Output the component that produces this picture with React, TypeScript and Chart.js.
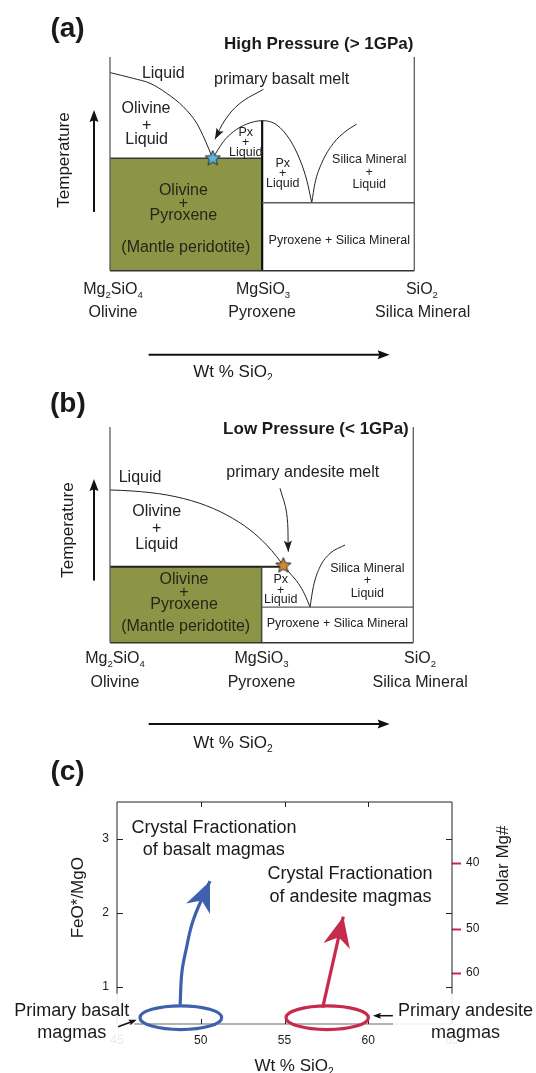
import React, { useEffect, useRef } from 'react';
import { Chart, registerables } from 'chart.js';

Chart.register(...registerables);

const FONT = '"Liberation Sans", Arial, Helvetica, sans-serif';
Chart.defaults.font.family = FONT;

type P = { x: number; y: number };
type Label = { t: string; x: number; y: number; s: string; rot?: boolean };

// ---------------- Panel (a): High pressure (schematic composition 0=Mg2SiO4, 1=MgSiO3, 2=SiO2; temperature 0..100) -------------
const hpOlivineLiquidus: P[] = [
  { x: 0, y: 92.7 }, { x: 0.153, y: 90.0 }, { x: 0.263, y: 87.7 }, { x: 0.373, y: 83.0 },
  { x: 0.482, y: 76.7 }, { x: 0.57, y: 69.0 }, { x: 0.624, y: 61.2 }, { x: 0.675, y: 52.6 },
];
const hpPxLiquidus: P[] = [
  { x: 0.675, y: 52.6 }, { x: 0.745, y: 60.4 }, { x: 0.81, y: 65.0 }, { x: 0.898, y: 68.6 },
  { x: 1.0, y: 70.2 }, { x: 1.096, y: 68.2 }, { x: 1.183, y: 61.2 }, { x: 1.249, y: 51.8 },
  { x: 1.293, y: 42.4 }, { x: 1.326, y: 31.8 },
];
const hpSilicaLiquidus: P[] = [
  { x: 1.326, y: 31.8 }, { x: 1.347, y: 40.9 }, { x: 1.391, y: 50.3 }, { x: 1.468, y: 59.6 },
  { x: 1.545, y: 65.0 }, { x: 1.621, y: 68.6 },
];
const hpSolidusOlPx = 52.6;
const hpSolidusPxSil = 31.8;
const hpPxMelting = 70.2;
const hpMelt: P[] = [{ x: 0.675, y: 53.0 }];
const hpMeltArrow: P[] = [{ x: 1.008, y: 84.9 }, { x: 0.854, y: 78.3 }, { x: 0.756, y: 70.5 }, { x: 0.69, y: 61.5 }];
const hpTempArrow: P[] = [{ x: -0.105, y: 27.5 }, { x: -0.105, y: 75.2 }];
const hpSio2Arrow: P[] = [{ x: 0.254, y: -39.3 }, { x: 1.838, y: -39.3 }];
const hpLabels: Label[] = [
  { t: '(a)', x: -0.279, y: 113.1, s: 'panel' },
  { t: 'High Pressure (> 1GPa)', x: 1.372, y: 105.9, s: 'title' },
  { t: 'Liquid', x: 0.35, y: 92.4, s: 'm' },
  { t: 'Olivine', x: 0.237, y: 75.7, s: 'm' },
  { t: '+', x: 0.241, y: 67.7, s: 'm' },
  { t: 'Liquid', x: 0.241, y: 61.2, s: 'm' },
  { t: 'primary basalt melt', x: 1.128, y: 89.6, s: 'm' },
  { t: 'Px', x: 0.892, y: 64.6, s: 's' },
  { t: '+', x: 0.892, y: 59.9, s: 's' },
  { t: 'Liquid', x: 0.892, y: 55.2, s: 's' },
  { t: 'Px', x: 1.135, y: 50.3, s: 's' },
  { t: '+', x: 1.135, y: 45.6, s: 's' },
  { t: 'Liquid', x: 1.135, y: 40.6, s: 's' },
  { t: 'Silica Mineral', x: 1.704, y: 52.1, s: 's' },
  { t: '+', x: 1.704, y: 45.9, s: 's' },
  { t: 'Liquid', x: 1.704, y: 40.1, s: 's' },
  { t: 'Olivine', x: 0.482, y: 37.4, s: 'o' },
  { t: '+', x: 0.482, y: 31.5, s: 'o' },
  { t: 'Pyroxene', x: 0.482, y: 25.7, s: 'o' },
  { t: '(Mantle peridotite)', x: 0.498, y: 11.0, s: 'o' },
  { t: 'Pyroxene + Silica Mineral', x: 1.507, y: 14.0, s: 's' },
  { t: 'Mg_2SiO_4', x: 0.02, y: -8.9, s: 'm' },
  { t: 'Olivine', x: 0.02, y: -19.8, s: 'm' },
  { t: 'MgSiO_3', x: 1.006, y: -8.9, s: 'm' },
  { t: 'Pyroxene', x: 1.0, y: -19.8, s: 'm' },
  { t: 'SiO_2', x: 2.05, y: -8.9, s: 'm' },
  { t: 'Silica Mineral', x: 2.055, y: -19.8, s: 'm' },
  { t: 'Wt % SiO_2', x: 0.808, y: -47.4, s: 'axis' },
  { t: 'Temperature', x: -0.302, y: 51.8, s: 'axis', rot: true },
];

// ---------------- Panel (b): Low pressure ----------------
const lpOlivinePxLiquidus: P[] = [
  { x: 0, y: 70.8 }, { x: 0.154, y: 70.3 }, { x: 0.374, y: 68.5 }, { x: 0.593, y: 64.6 },
  { x: 0.77, y: 59.2 }, { x: 0.923, y: 52.3 }, { x: 1.033, y: 45.3 }, { x: 1.099, y: 39.9 },
  { x: 1.143, y: 35.9 }, { x: 1.187, y: 32.2 }, { x: 1.242, y: 27.5 }, { x: 1.286, y: 22.1 },
  { x: 1.319, y: 16.5 },
];
const lpSilicaLiquidus: P[] = [
  { x: 1.319, y: 16.5 }, { x: 1.341, y: 26.0 }, { x: 1.385, y: 35.2 }, { x: 1.451, y: 41.4 }, { x: 1.55, y: 45.3 },
];
const lpPeritectic = 35.2;
const lpPeritecticEnd = 1.13;
const lpSolidusPxSil = 16.5;
const lpMelt: P[] = [{ x: 1.143, y: 36.2 }];
const lpMeltArrow: P[] = [{ x: 1.121, y: 71.6 }, { x: 1.165, y: 60.0 }, { x: 1.176, y: 42.2 }];
const lpTempArrow: P[] = [{ x: -0.1055, y: 28.8 }, { x: -0.1055, y: 75.9 }];
const lpSio2Arrow: P[] = [{ x: 0.255, y: -37.7 }, { x: 1.844, y: -37.7 }];
const lpLabels: Label[] = [
  { t: '(b)', x: -0.278, y: 110.6, s: 'panel' },
  { t: 'Low Pressure (< 1GPa)', x: 1.358, y: 99.0, s: 'title' },
  { t: 'Liquid', x: 0.198, y: 76.7, s: 'm' },
  { t: 'Olivine', x: 0.308, y: 60.7, s: 'm' },
  { t: '+', x: 0.308, y: 53.0, s: 'm' },
  { t: 'Liquid', x: 0.308, y: 45.3, s: 'm' },
  { t: 'primary andesite melt', x: 1.271, y: 78.8, s: 'm' },
  { t: 'Olivine', x: 0.488, y: 29.1, s: 'o' },
  { t: '+', x: 0.488, y: 23.2, s: 'o' },
  { t: 'Pyroxene', x: 0.488, y: 17.8, s: 'o' },
  { t: '(Mantle peridotite)', x: 0.499, y: 7.4, s: 'o' },
  { t: 'Px', x: 1.126, y: 29.4, s: 's' },
  { t: '+', x: 1.126, y: 24.4, s: 's' },
  { t: 'Liquid', x: 1.126, y: 19.8, s: 's' },
  { t: 'Silica Mineral', x: 1.697, y: 34.5, s: 's' },
  { t: '+', x: 1.697, y: 28.6, s: 's' },
  { t: 'Liquid', x: 1.697, y: 22.9, s: 's' },
  { t: 'Pyroxene + Silica Mineral', x: 1.499, y: 8.7, s: 's' },
  { t: 'Mg_2SiO_4', x: 0.033, y: -7.6, s: 'm' },
  { t: 'Olivine', x: 0.033, y: -18.4, s: 'm' },
  { t: 'MgSiO_3', x: 0.999, y: -7.6, s: 'm' },
  { t: 'Pyroxene', x: 0.999, y: -18.4, s: 'm' },
  { t: 'SiO_2', x: 2.045, y: -7.6, s: 'm' },
  { t: 'Silica Mineral', x: 2.045, y: -18.4, s: 'm' },
  { t: 'Wt % SiO_2', x: 0.811, y: -46.7, s: 'axis' },
  { t: 'Temperature', x: -0.277, y: 52.2, s: 'axis', rot: true },
];

// ---------------- Panel (c): FeO*/MgO vs SiO2 ----------------
const sio2Ticks = [45, 50, 55, 60, 65];
const ratioTicks = [1, 2, 3];
const mgTicks = [40, 50, 60];
const basaltTrend: P[] = [
  { x: 48.77, y: 0.76 }, { x: 48.87, y: 1.19 }, { x: 49.12, y: 1.5 }, { x: 49.56, y: 1.91 }, { x: 50.55, y: 2.43 },
];
const andesiteTrend: P[] = [{ x: 57.28, y: 0.72 }, { x: 58.51, y: 1.95 }];
const primaryMagmaCenters: P[] = [{ x: 48.81, y: 0.585 }, { x: 57.55, y: 0.585 }];
const primaryMagmaSpread: P[] = [{ x: 2.44, y: 0.16 }, { x: 2.46, y: 0.16 }];
const cLabels: Label[] = [
  { t: '(c)', x: 42.05, y: 3.9, s: 'panel' },
  { t: 'Crystal Fractionation', x: 50.79, y: 3.15, s: 'c' },
  { t: 'of basalt magmas', x: 50.78, y: 2.855, s: 'c' },
  { t: 'Crystal Fractionation', x: 58.91, y: 2.52, s: 'c' },
  { t: 'of andesite magmas', x: 58.94, y: 2.22, s: 'c' },
  { t: 'FeO*/MgO', x: 42.68, y: 2.207, s: 'axis', rot: true },
  { t: 'Molar Mg#', x: 68.07, y: 2.64, s: 'axis', rot: true },
  { t: 'Wt % SiO_2', x: 55.57, y: -0.077, s: 'axis' },
];
const boxedLabels = [
  { lines: ['Primary basalt', 'magmas'], x: 42.3, y: [0.68, 0.382] },
  { lines: ['Primary andesite', 'magmas'], x: 65.81, y: [0.68, 0.382] },
];
const pointerArrows: P[][] = [
  [{ x: 45.07, y: 0.463 }, { x: 46.18, y: 0.558 }],
  [{ x: 61.47, y: 0.612 }, { x: 60.28, y: 0.612 }],
];
const mgToRatio = (mg: number) => (100 / mg - 1) / 0.561;
const ratioToMg = (r: number) => 100 / (1 + 0.561 * r);

// ---------------- styles ----------------
const OLIVE = '#8c9545';
const GRAY = '#5c5c5c';
const BLUE = '#3f60ad';
const RED = '#c62a4c';
const STYLES: Record<string, { size: number; bold?: boolean; color: string }> = {
  m: { size: 16, color: '#222' },
  s: { size: 12.5, color: '#222' },
  o: { size: 16, color: '#25261a' },
  axis: { size: 17, color: '#1a1a1a' },
  title: { size: 17, bold: true, color: '#1a1a1a' },
  panel: { size: 28, bold: true, color: '#1a1a1a' },
  c: { size: 18, color: '#1a1a1a' },
};

function parseSub(text: string) {
  return text
    .split(/_(\d)/)
    .map((t, i) => ({ t, sub: i % 2 === 1 }))
    .filter((p) => p.t.length > 0);
}

function drawLabel(ctx: CanvasRenderingContext2D, text: string, px: number, py: number, key: string, rot = false) {
  const st = STYLES[key];
  const parts = parseSub(text);
  const main = `${st.bold ? 'bold ' : ''}${st.size}px ${FONT}`;
  const sub = `${st.bold ? 'bold ' : ''}${st.size * 0.6}px ${FONT}`;
  ctx.save();
  ctx.translate(px, py);
  if (rot) ctx.rotate(-Math.PI / 2);
  let w = 0;
  const ws = parts.map((p) => {
    ctx.font = p.sub ? sub : main;
    const m = ctx.measureText(p.t).width;
    w += m;
    return m;
  });
  let cx = -w / 2;
  ctx.fillStyle = st.color;
  ctx.textAlign = 'left';
  ctx.textBaseline = 'middle';
  parts.forEach((p, i) => {
    ctx.font = p.sub ? sub : main;
    ctx.fillText(p.t, cx, p.sub ? st.size * 0.34 : 0);
    cx += ws[i];
  });
  ctx.restore();
}

function drawHead(ctx: CanvasRenderingContext2D, tip: P, from: P, len: number, w: number, color: string, notch = 0.2) {
  const a = Math.atan2(tip.y - from.y, tip.x - from.x);
  const c = Math.cos(a), s = Math.sin(a);
  const bx = tip.x - len * c, by = tip.y - len * s;
  const nx = -s, ny = c;
  ctx.save();
  ctx.fillStyle = color;
  ctx.beginPath();
  ctx.moveTo(tip.x, tip.y);
  ctx.lineTo(bx + (nx * w) / 2, by + (ny * w) / 2);
  ctx.lineTo(tip.x - len * (1 - notch) * c, tip.y - len * (1 - notch) * s);
  ctx.lineTo(bx - (nx * w) / 2, by - (ny * w) / 2);
  ctx.closePath();
  ctx.fill();
  ctx.restore();
}

function drawStraightArrow(ctx: CanvasRenderingContext2D, a: P, b: P, lw: number, color: string, len: number, w: number) {
  const ang = Math.atan2(b.y - a.y, b.x - a.x);
  ctx.save();
  ctx.strokeStyle = color;
  ctx.lineWidth = lw;
  ctx.beginPath();
  ctx.moveTo(a.x, a.y);
  ctx.lineTo(b.x - Math.cos(ang) * len * 0.7, b.y - Math.sin(ang) * len * 0.7);
  ctx.stroke();
  ctx.restore();
  drawHead(ctx, b, a, len, w, color, 0.15);
}

function toPx(chart: any, p: P): P {
  return { x: chart.scales.x.getPixelForValue(p.x), y: chart.scales.y.getPixelForValue(p.y) };
}

function makeStar(fill: string, R: number) {
  const c = document.createElement('canvas');
  const size = Math.ceil(2 * R + 4);
  c.width = size;
  c.height = size;
  const g = c.getContext('2d')!;
  g.beginPath();
  for (let i = 0; i < 10; i++) {
    const r = i % 2 ? R * 0.45 : R;
    const a = -Math.PI / 2 + (i * Math.PI) / 5;
    const x = size / 2 + r * Math.cos(a);
    const y = size / 2 + 1 + r * Math.sin(a);
    if (i === 0) g.moveTo(x, y);
    else g.lineTo(x, y);
  }
  g.closePath();
  g.fillStyle = fill;
  g.fill();
  g.strokeStyle = '#2a2a2a';
  g.lineWidth = 1;
  g.stroke();
  return c;
}

const seg = (data: P[], color: string, width: number, extra: any = {}) => ({
  data,
  borderColor: color,
  borderWidth: width,
  pointRadius: 0,
  fill: false,
  clip: false,
  order: 5,
  ...extra,
});

function phasePlugin(labels: Label[], meltArrow: P[], tempArrow: P[], sio2Arrow: P[]) {
  return {
    id: 'phaseDeco',
    afterDraw(chart: any) {
      const ctx = chart.ctx as CanvasRenderingContext2D;
      const n = meltArrow.length;
      drawHead(ctx, toPx(chart, meltArrow[n - 1]), toPx(chart, meltArrow[n - 2]), 11, 8, '#1a1a1a', 0.2);
      drawStraightArrow(ctx, toPx(chart, tempArrow[0]), toPx(chart, tempArrow[1]), 2, '#111', 12, 9);
      drawStraightArrow(ctx, toPx(chart, sio2Arrow[0]), toPx(chart, sio2Arrow[1]), 2, '#111', 12, 9);
      labels.forEach((l) => {
        const p = toPx(chart, l);
        drawLabel(ctx, l.t, p.x, p.y, l.s, l.rot);
      });
    },
  };
}

function phaseConfig(datasets: any[], padding: any, plugin: any): any {
  return {
    type: 'line',
    data: { datasets },
    options: {
      animation: false,
      responsive: false,
      events: [],
      layout: { padding },
      scales: {
        x: { type: 'linear', min: 0, max: 2, display: false },
        y: { type: 'linear', min: 0, max: 100, display: false },
      },
      plugins: { legend: { display: false }, tooltip: { enabled: false } },
    },
    plugins: [plugin],
  };
}

function configA(): any {
  const datasets = [
    {
      data: [{ x: 0, y: hpSolidusOlPx }, { x: 1, y: hpSolidusOlPx }],
      fill: 'origin',
      backgroundColor: OLIVE,
      borderColor: '#3a3a3a',
      borderWidth: 1.6,
      pointRadius: 0,
      clip: false,
      order: 10,
    },
    seg([{ x: 0, y: 0 }, { x: 0, y: 100 }], GRAY, 1.3),
    seg([{ x: 2, y: 0 }, { x: 2, y: 100 }], GRAY, 1.3),
    seg([{ x: 0, y: 0 }, { x: 2, y: 0 }], '#333', 1.6),
    seg([{ x: 1, y: hpSolidusPxSil }, { x: 2, y: hpSolidusPxSil }], GRAY, 1.3),
    seg([{ x: 1, y: 0 }, { x: 1, y: hpPxMelting }], '#111', 2.2),
    seg(hpOlivineLiquidus, '#222', 1, { cubicInterpolationMode: 'monotone' }),
    seg(hpPxLiquidus, '#222', 1, { cubicInterpolationMode: 'monotone' }),
    seg(hpSilicaLiquidus, '#222', 1, { cubicInterpolationMode: 'monotone' }),
    seg(hpMeltArrow, '#222', 1, { tension: 0.4 }),
    {
      data: hpMelt,
      showLine: false,
      pointStyle: makeStar('#5bb5dd', 8),
      pointRadius: 8,
      clip: false,
      order: 0,
    },
  ];
  return phaseConfig(
    datasets,
    { left: 110, right: 121.7, top: 57, bottom: 109.3 },
    phasePlugin(hpLabels, hpMeltArrow, hpTempArrow, hpSio2Arrow)
  );
}

function configB(): any {
  const datasets = [
    {
      data: [{ x: 0, y: lpPeritectic }, { x: 1, y: lpPeritectic }],
      fill: 'origin',
      backgroundColor: OLIVE,
      borderColor: '#222',
      borderWidth: 2,
      pointRadius: 0,
      clip: false,
      order: 10,
    },
    seg([{ x: 1, y: lpPeritectic }, { x: lpPeritecticEnd, y: lpPeritectic }], '#222', 2),
    seg([{ x: 0, y: 0 }, { x: 0, y: 100 }], GRAY, 1.3),
    seg([{ x: 2, y: 0 }, { x: 2, y: 100 }], GRAY, 1.3),
    seg([{ x: 0, y: 0 }, { x: 2, y: 0 }], '#333', 1.6),
    seg([{ x: 1, y: lpSolidusPxSil }, { x: 2, y: lpSolidusPxSil }], GRAY, 1.3),
    seg([{ x: 1, y: 0 }, { x: 1, y: lpPeritectic }], '#444', 1.5),
    seg(lpOlivinePxLiquidus, '#222', 1, { cubicInterpolationMode: 'monotone' }),
    seg(lpSilicaLiquidus, '#222', 1, { cubicInterpolationMode: 'monotone' }),
    seg(lpMeltArrow, '#222', 1, { tension: 0.4 }),
    {
      data: lpMelt,
      showLine: false,
      pointStyle: makeStar('#d38633', 8),
      pointRadius: 8,
      clip: false,
      order: 0,
    },
  ];
  // canvas (b) spans page y 380..754
  return phaseConfig(
    datasets,
    { left: 110, right: 122.7, top: 47, bottom: 111.3 },
    phasePlugin(lpLabels, lpMeltArrow, lpTempArrow, lpSio2Arrow)
  );
}

const cPlugin = {
  id: 'cDeco',
  beforeDatasetsDraw(chart: any) {
    const ctx = chart.ctx as CanvasRenderingContext2D;
    const { left, right, top, bottom } = chart.chartArea;
    const xs = chart.scales.x, ys = chart.scales.y;
    ctx.save();
    ctx.strokeStyle = '#222';
    ctx.lineWidth = 1;
    ctx.beginPath();
    ctx.moveTo(left, bottom);
    ctx.lineTo(left, top);
    ctx.lineTo(right, top);
    ctx.lineTo(right, bottom);
    ctx.stroke();
    ctx.strokeStyle = '#9a9a9a';
    ctx.lineWidth = 1.5;
    ctx.beginPath();
    ctx.moveTo(left, bottom);
    ctx.lineTo(right, bottom);
    ctx.stroke();
    ctx.strokeStyle = '#222';
    ctx.lineWidth = 1;
    ctx.beginPath();
    sio2Ticks.slice(1, -1).forEach((v) => {
      const x = Math.round(xs.getPixelForValue(v)) + 0.5;
      ctx.moveTo(x, top);
      ctx.lineTo(x, top + 5);
      ctx.moveTo(x, bottom);
      ctx.lineTo(x, bottom - 5);
    });
    ratioTicks.forEach((v) => {
      const y = Math.round(ys.getPixelForValue(v)) + 0.5;
      ctx.moveTo(left, y);
      ctx.lineTo(left + 6, y);
      ctx.moveTo(right, y);
      ctx.lineTo(right - 6, y);
    });
    ctx.stroke();
    ctx.restore();
  },
  afterDatasetsDraw(chart: any) {
    const ctx = chart.ctx as CanvasRenderingContext2D;
    const colors = [BLUE, RED];
    primaryMagmaCenters.forEach((c, i) => {
      const p = toPx(chart, c);
      const e = toPx(chart, { x: c.x + primaryMagmaSpread[i].x, y: c.y + primaryMagmaSpread[i].y });
      ctx.save();
      ctx.strokeStyle = colors[i];
      ctx.lineWidth = 3.2;
      ctx.beginPath();
      ctx.ellipse(p.x, p.y, Math.abs(e.x - p.x), Math.abs(e.y - p.y), 0, 0, Math.PI * 2);
      ctx.stroke();
      ctx.restore();
    });
    const bt = basaltTrend;
    drawHead(ctx, toPx(chart, bt[bt.length - 1]), toPx(chart, bt[bt.length - 2]), 30, 26, BLUE, 0.3);
    drawHead(ctx, toPx(chart, andesiteTrend[1]), toPx(chart, andesiteTrend[0]), 30, 27, RED, 0.3);
  },
  afterDraw(chart: any) {
    const ctx = chart.ctx as CanvasRenderingContext2D;
    const st = STYLES.c;
    boxedLabels.forEach((b) => {
      ctx.save();
      ctx.font = `${st.size}px ${FONT}`;
      const w = Math.max(...b.lines.map((l) => ctx.measureText(l).width));
      const cx = chart.scales.x.getPixelForValue(b.x);
      const y1 = chart.scales.y.getPixelForValue(b.y[0]);
      const y2 = chart.scales.y.getPixelForValue(b.y[b.y.length - 1]);
      ctx.fillStyle = 'rgba(255,255,255,0.9)';
      ctx.fillRect(cx - w / 2 - 5, y1 - 17, w + 10, y2 - y1 + 31);
      ctx.restore();
      b.lines.forEach((l, i) => drawLabel(ctx, l, cx, chart.scales.y.getPixelForValue(b.y[i]), 'c'));
    });
    pointerArrows.forEach((a) => {
      drawStraightArrow(ctx, toPx(chart, a[0]), toPx(chart, a[1]), 1.5, '#111', 8, 6);
    });
    cLabels.forEach((l) => {
      const p = toPx(chart, l);
      drawLabel(ctx, l.t, p.x, p.y, l.s, l.rot);
    });
  },
};

function configC(): any {
  // canvas (c) spans page y 754..1073 (height 319); plot area page y 802..1024
  return {
    type: 'line',
    data: {
      datasets: [
        seg(basaltTrend, BLUE, 3.2, { tension: 0.4 }),
        seg(andesiteTrend, RED, 3.2),
      ],
    },
    options: {
      animation: false,
      responsive: false,
      events: [],
      layout: { padding: { left: 0, right: 0, top: 48, bottom: 0 } },
      scales: {
        x: {
          type: 'linear',
          min: 45,
          max: 65,
          afterBuildTicks: (s: any) => {
            s.ticks = sio2Ticks.map((v) => ({ value: v }));
          },
          ticks: { font: { size: 12 }, color: '#1a1a1a', padding: 9, maxRotation: 0, autoSkip: false },
          grid: { display: false, drawTicks: false },
          border: { display: false },
          afterFit: (s: any) => {
            s.height = 49;
          },
        },
        y: {
          type: 'linear',
          position: 'left',
          min: 0.5,
          max: 3.5,
          afterBuildTicks: (s: any) => {
            s.ticks = ratioTicks.map((v) => ({ value: v }));
          },
          ticks: { font: { size: 12 }, color: '#1a1a1a', padding: 8 },
          grid: { display: false, drawTicks: false },
          border: { display: false },
          afterFit: (s: any) => {
            s.width = 117;
          },
        },
        y2: {
          type: 'linear',
          position: 'right',
          min: 0.5,
          max: 3.5,
          afterBuildTicks: (s: any) => {
            s.ticks = mgTicks.map((m) => ({ value: mgToRatio(m) }));
          },
          ticks: {
            font: { size: 12 },
            color: '#1a1a1a',
            padding: 5,
            callback: (v: any) => String(Math.round(ratioToMg(Number(v)))),
          },
          grid: { display: true, drawOnChartArea: false, drawTicks: true, tickLength: 9, tickColor: RED, tickWidth: 2 },
          border: { display: false },
          afterFit: (s: any) => {
            s.width = 84;
          },
        },
      },
      plugins: { legend: { display: false }, tooltip: { enabled: false } },
    },
    plugins: [cPlugin],
  };
}

export default function App() {
  const refA = useRef<HTMLCanvasElement>(null);
  const refB = useRef<HTMLCanvasElement>(null);
  const refC = useRef<HTMLCanvasElement>(null);
  useEffect(() => {
    const charts = [
      new Chart(refA.current!, configA()),
      new Chart(refB.current!, configB()),
      new Chart(refC.current!, configC()),
    ];
    return () => charts.forEach((c) => c.destroy());
  }, []);
  return (
    <div style={{ position: 'absolute', left: 0, top: 0, width: 536, height: 1073, background: '#fff', overflow: 'hidden' }}>
      <canvas ref={refA} width={536} height={380} style={{ position: 'absolute', left: 0, top: 0, width: 536, height: 380 }} />
      <canvas ref={refB} width={536} height={374} style={{ position: 'absolute', left: 0, top: 380, width: 536, height: 374 }} />
      <canvas ref={refC} width={536} height={319} style={{ position: 'absolute', left: 0, top: 754, width: 536, height: 319 }} />
    </div>
  );
}
